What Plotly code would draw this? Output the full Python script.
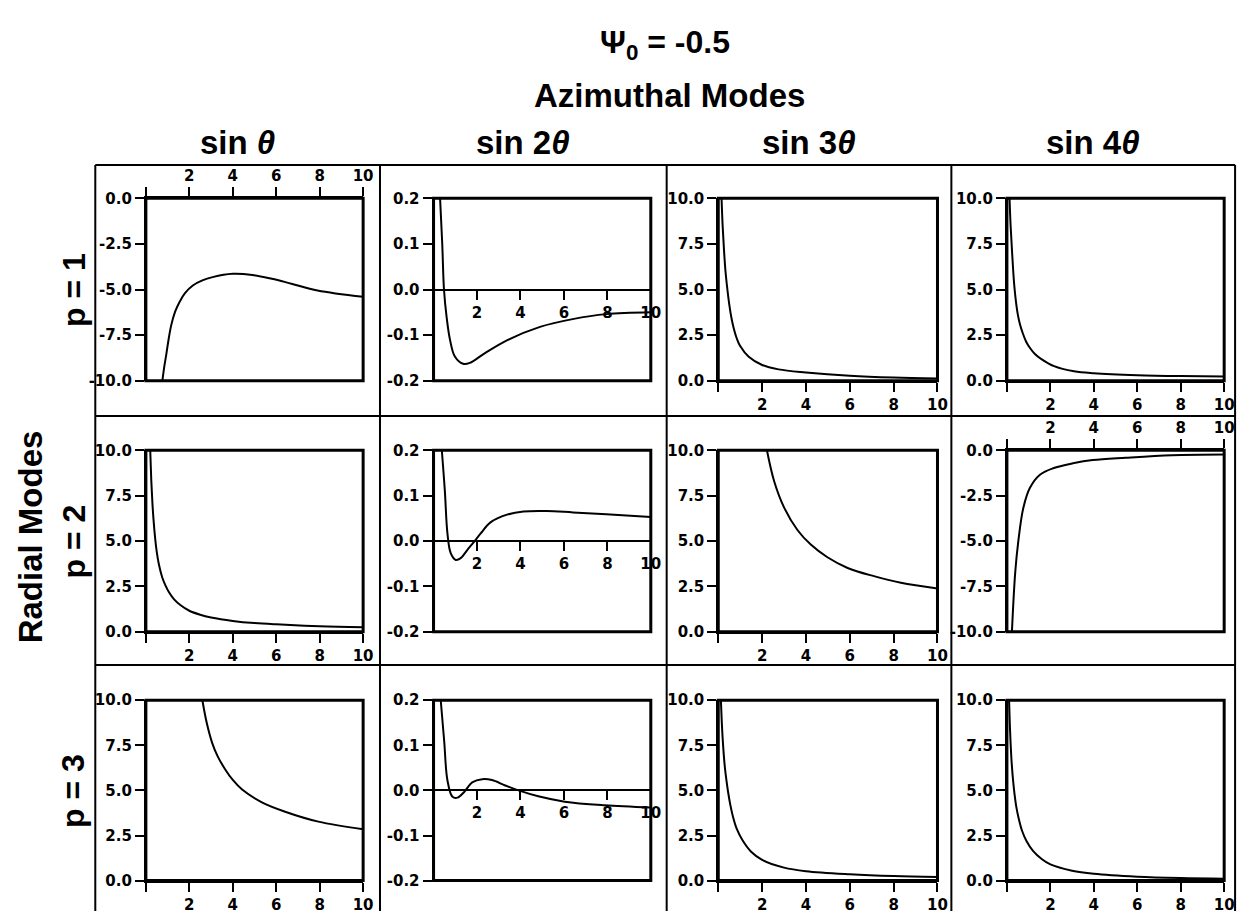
import plotly.graph_objects as go

W, H = 1247, 912

# ---------------- data ----------------
col_titles = ["sin <i>θ</i>", "sin 2<i>θ</i>", "sin 3<i>θ</i>", "sin 4<i>θ</i>"]
row_titles = ["p = 1", "p = 2", "p = 3"]

x_ticks = [2, 4, 6, 8, 10]
x_ticktext = ["2", "4", "6", "8", "10"]

y_ticks_neg = [-10, -7.5, -5, -2.5, 0]
y_text_neg = ["-10.0", "-7.5", "-5.0", "-2.5", "0.0"]
y_ticks_pos = [0, 2.5, 5, 7.5, 10]
y_text_pos = ["0.0", "2.5", "5.0", "7.5", "10.0"]
y_ticks_small = [-0.2, -0.1, 0, 0.1, 0.2]
y_text_small = ["-0.2", "-0.1", "0.0", "0.1", "0.2"]

# p = 1
x_p1_s1 = [0.76, 0.85, 0.94, 1.05, 1.17, 1.35, 1.55, 1.8, 2.16, 2.6, 3.07, 3.99, 4.9, 5.8, 6.7, 7.9, 10]
y_p1_s1 = [-10, -9.2, -8.56, -7.7, -6.94, -6.2, -5.68, -5.2, -4.78, -4.5, -4.32, -4.14, -4.2, -4.41, -4.68, -5.05, -5.4]
x_p1_s2 = [0.3, 0.4, 0.48, 0.6, 0.76, 0.98, 1.36, 1.67, 2.35, 3.4, 4.9, 6.4, 7.95, 10]
y_p1_s2 = [0.2, 0.1, 0.0, -0.06, -0.111, -0.147, -0.163, -0.161, -0.140, -0.111, -0.082, -0.065, -0.054, -0.05]
x_p1_s3 = [0.15, 0.2, 0.26, 0.33, 0.41, 0.5, 0.6, 0.71, 0.85, 1.0, 1.39, 2.0, 2.75, 4.0, 6.0, 8.0, 10]
y_p1_s3 = [10, 8.5, 7.2, 6.0, 5.07, 4.2, 3.45, 2.85, 2.3, 1.9, 1.31, 0.86, 0.62, 0.45, 0.27, 0.17, 0.12]
x_p1_s4 = [0.12, 0.17, 0.23, 0.29, 0.35, 0.42, 0.5, 0.6, 0.73, 0.88, 1.03, 1.3, 1.57, 2.17, 3.09, 4.0, 6.0, 8.0, 10]
y_p1_s4 = [10, 8.5, 7.2, 6.0, 5.07, 4.3, 3.64, 3.1, 2.6, 2.15, 1.85, 1.45, 1.2, 0.8, 0.52, 0.41, 0.3, 0.25, 0.23]
# p = 2
x_p2_s1 = [0.2, 0.25, 0.3, 0.35, 0.43, 0.5, 0.6, 0.75, 0.9, 1.05, 1.3, 1.6, 2.0, 2.5, 3.0, 4.0, 5.0, 6.0, 8.0, 10]
y_p2_s1 = [10, 8.3, 7.1, 6.2, 5.1, 4.4, 3.7, 3.0, 2.55, 2.2, 1.78, 1.45, 1.15, 0.93, 0.78, 0.59, 0.47, 0.4, 0.3, 0.24]
x_p2_s2 = [0.38, 0.52, 0.64, 0.79, 1.02, 1.25, 1.55, 1.86, 2.16, 2.62, 3.38, 4.14, 5.2, 6.42, 7.95, 10]
y_p2_s2 = [0.2, 0.11, 0.016, -0.027, -0.042, -0.038, -0.02, -0.002, 0.016, 0.041, 0.058, 0.065, 0.066, 0.063, 0.059, 0.053]
x_p2_s3 = [2.22, 2.55, 3.0, 3.62, 4.22, 4.98, 5.9, 7.1, 8.33, 10]
y_p2_s3 = [10, 8.29, 6.85, 5.59, 4.8, 4.1, 3.51, 3.06, 2.70, 2.38]
x_p2_s4 = [0.23, 0.38, 0.53, 0.76, 1.06, 1.52, 2.13, 3.04, 3.95, 5.47, 7.6, 10]
y_p2_s4 = [-10, -6.76, -4.95, -3.15, -2.07, -1.35, -0.99, -0.72, -0.54, -0.41, -0.27, -0.23]
# p = 3
x_p3_s1 = [2.6, 2.8, 3.05, 3.3, 3.66, 4.0, 4.43, 5.34, 6.41, 7.94, 10]
y_p3_s1 = [10, 8.75, 7.64, 6.9, 6.15, 5.58, 5.05, 4.34, 3.82, 3.27, 2.85]
x_p3_s2 = [0.33, 0.49, 0.64, 0.87, 1.1, 1.4, 1.78, 2.24, 2.69, 3.3, 3.91, 4.82, 6.04, 7.87, 10]
y_p3_s2 = [0.2, 0.109, 0.022, -0.014, -0.016, -0.004, 0.018, 0.025, 0.023, 0.011, 0.0, -0.013, -0.025, -0.033, -0.038]
x_p3_s3 = [0.12, 0.16, 0.2, 0.25, 0.3, 0.38, 0.45, 0.55, 0.68, 0.85, 1.1, 1.5, 2.0, 3.0, 4.0, 6.0, 8.0, 10]
y_p3_s3 = [10, 8.8, 7.9, 7.0, 6.3, 5.5, 4.9, 4.2, 3.5, 2.85, 2.25, 1.6, 1.15, 0.72, 0.52, 0.35, 0.25, 0.2]
x_p3_s4 = [0.1, 0.13, 0.17, 0.22, 0.28, 0.35, 0.43, 0.55, 0.7, 0.9, 1.2, 1.6, 2.0, 3.0, 4.0, 6.0, 8.0, 10]
y_p3_s4 = [10, 8.8, 7.6, 6.5, 5.6, 4.8, 4.1, 3.4, 2.75, 2.2, 1.65, 1.2, 0.9, 0.55, 0.38, 0.22, 0.14, 0.1]

series = [
    [(x_p1_s1, y_p1_s1), (x_p1_s2, y_p1_s2), (x_p1_s3, y_p1_s3), (x_p1_s4, y_p1_s4)],
    [(x_p2_s1, y_p2_s1), (x_p2_s2, y_p2_s2), (x_p2_s3, y_p2_s3), (x_p2_s4, y_p2_s4)],
    [(x_p3_s1, y_p3_s1), (x_p3_s2, y_p3_s2), (x_p3_s3, y_p3_s3), (x_p3_s4, y_p3_s4)],
]
kinds = [
    ["neg", "small", "pos", "pos"],
    ["pos", "small", "pos", "neg"],
    ["pos", "small", "pos", "pos"],
]

# ---------------- layout geometry (pixels) ----------------
box_left = [139, 429, 716, 1007]
box_right = [358, 648, 937, 1226]
box_top = [185, 442, 697]
box_bottom = [371, 627, 881]
grid_x = [88, 375, 664, 951, 1237]
grid_y = [151, 407, 661]
grid_bottom = 912

def px(x):
    return x / W

def py(y):
    return 1 - y / H

tickfont = dict(family="DejaVu Sans", size=15, color="black", weight=700)
titlefont = dict(family="Liberation Sans", size=33, color="black")
rowfont = dict(family="Liberation Sans", size=32, color="black")

fig = go.Figure()
layout = dict(
    width=W, height=H, autosize=False,
    margin=dict(l=0, r=0, t=0, b=0),
    paper_bgcolor="white", plot_bgcolor="white",
    showlegend=False,
)
shapes = []
annotations = []

yinfo = {
    "neg": ([-10, 0], y_ticks_neg, y_text_neg),
    "pos": ([0, 10], y_ticks_pos, y_text_pos),
    "small": ([-0.2, 0.2], y_ticks_small, y_text_small),
}

for r in range(3):
    for c in range(4):
        k = r * 4 + c + 1
        sfx = "" if k == 1 else str(k)
        kind = kinds[r][c]
        xs, ys = series[r][c]
        fig.add_trace(go.Scatter(
            x=xs, y=ys, mode="lines",
            line=dict(color="black", width=2, shape="spline", smoothing=1.0),
            xaxis="x" + sfx, yaxis="y" + sfx, hoverinfo="skip",
        ))
        yrange, yt, ytt = yinfo[kind]
        dx = [px(box_left[c]), px(box_right[c])]
        dy = [py(box_bottom[r]), py(box_top[r])]
        xa = dict(
            domain=dx, range=[0, 10], tickmode="array",
            tickvals=x_ticks, ticktext=x_ticktext,
            ticks="outside", ticklen=9, tickwidth=2, tickcolor="black",
            minor=dict(tickmode="array", tickvals=[0], ticks="outside",
                       ticklen=9, tickwidth=2, tickcolor="black", showgrid=False),
            showline=True, linewidth=2, linecolor="black",
            showgrid=False, zeroline=False, tickfont=tickfont, fixedrange=True,
        )
        if kind == "neg":
            xa.update(side="top", anchor="y" + sfx)
        elif kind == "pos":
            xa.update(side="bottom", anchor="y" + sfx)
        else:
            xa.update(side="bottom", anchor="free", position=(dy[0] + dy[1]) / 2)
        ya = dict(
            domain=dy, range=yrange, tickmode="array", tickvals=yt, ticktext=ytt,
            ticks="outside", ticklen=9, tickwidth=2, tickcolor="black",
            showline=True, linewidth=2, linecolor="black",
            showgrid=False, zeroline=False, tickfont=tickfont,
            anchor="x" + sfx, side="left", fixedrange=True,
        )
        layout["xaxis" + sfx] = xa
        layout["yaxis" + sfx] = ya
        shapes.append(dict(
            type="rect", xref="x" + sfx + " domain", yref="y" + sfx + " domain",
            x0=0, x1=1, y0=0, y1=1, line=dict(color="black", width=3),
            fillcolor="rgba(0,0,0,0)", layer="above",
        ))

# cell grid
for gx in grid_x:
    shapes.append(dict(type="line", xref="paper", yref="paper",
                       x0=px(gx), x1=px(gx), y0=py(grid_y[0]), y1=py(grid_bottom),
                       line=dict(color="black", width=2)))
for gy in grid_y:
    shapes.append(dict(type="line", xref="paper", yref="paper",
                       x0=px(grid_x[0]), x1=px(grid_x[-1]), y0=py(gy), y1=py(gy),
                       line=dict(color="black", width=2)))

# titles
annotations.append(dict(text="<b>Ψ<sub>0</sub>\u00a0= -0.5</b>", x=px(662), y=py(28),
                        xref="paper", yref="paper", showarrow=False,
                        xanchor="center", yanchor="middle",
                        font=dict(family="Liberation Sans", size=32, color="black")))
annotations.append(dict(text="<b>Azimuthal Modes</b>", x=px(667), y=py(80),
                        xref="paper", yref="paper", showarrow=False,
                        xanchor="center", yanchor="middle", font=titlefont))
for c in range(4):
    annotations.append(dict(text="<b>" + col_titles[c] + "</b>",
                            x=px((grid_x[c] + grid_x[c + 1]) / 2), y=py(128),
                            xref="paper", yref="paper", showarrow=False,
                            xanchor="center", yanchor="middle", font=titlefont))
for r in range(3):
    annotations.append(dict(text="<b>" + row_titles[r] + "</b>",
                            x=px(66), y=py((box_top[r] + box_bottom[r]) / 2),
                            xref="paper", yref="paper", showarrow=False, textangle=-90,
                            xanchor="center", yanchor="middle", font=rowfont))
annotations.append(dict(text="<b>Radial Modes</b>", x=px(23), y=py(530),
                        xref="paper", yref="paper", showarrow=False, textangle=-90,
                        xanchor="center", yanchor="middle", font=titlefont))

layout["shapes"] = shapes
layout["annotations"] = annotations
fig.update_layout(**layout)
fig.write_html("out.html")
